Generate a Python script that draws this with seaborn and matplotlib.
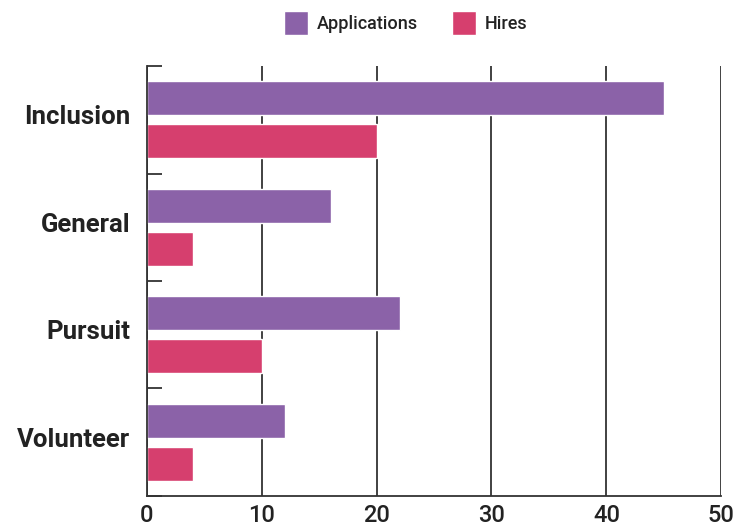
import matplotlib
matplotlib.use("Agg")
import matplotlib.pyplot as plt
import matplotlib.transforms as mtransforms
import seaborn as sns
import pandas as pd
from matplotlib.ticker import FixedLocator

# data
categories = ["Inclusion", "General", "Pursuit", "Volunteer"]
applications = [45, 16, 22, 12]
hires = [20, 4, 10, 4]
series_names = ["Applications", "Hires"]
x_ticks = [0, 10, 20, 30, 40, 50]

sns.set_theme(style="white")
plt.rcParams["font.family"] = ["Roboto", "DejaVu Sans"]

df = pd.DataFrame({
    "Program": categories * 2,
    "Count": applications + hires,
    "Series": [series_names[0]] * len(categories) + [series_names[1]] * len(categories),
})

fig = plt.figure(figsize=(7.49, 5.29), dpi=100)
ax = fig.add_axes([0.196, 0.0624, 0.767, 0.8128])

sns.barplot(data=df, y="Program", x="Count", hue="Series", orient="h",
            palette=["#8B62A8", "#D63F6E"], width=0.8, gap=0.2,
            saturation=1, ax=ax, legend=True)

ax.set_xlim(0, 50)
ax.set_ylim(len(categories) - 0.5, -0.5)
ax.set_xticks(x_ticks)
ax.set_xticklabels([str(t) for t in x_ticks], fontsize=17, fontweight="medium", color="#222222")
ax.tick_params(axis="x", length=0, pad=6)
ax.tick_params(axis="y", which="major", left=False, length=0, pad=12)
shift = mtransforms.ScaledTranslation(0, 5 / 100, fig.dpi_scale_trans)
for lab in ax.get_yticklabels():
    lab.set_fontsize(18.5)
    lab.set_fontweight("bold")
    lab.set_color("#222222")
    lab.set_transform(lab.get_transform() + shift)
ax.yaxis.set_minor_locator(FixedLocator([i - 0.5 for i in range(len(categories) + 1)]))
ax.tick_params(axis="y", which="minor", left=True, direction="in", length=11,
               width=1.3, color="#333333")

ax.set_xlabel("")
ax.set_ylabel("")
ax.grid(axis="x", color="#333333", linewidth=1.3)
ax.set_axisbelow(True)
for s in ["top", "right"]:
    ax.spines[s].set_visible(False)
for s in ["left", "bottom"]:
    ax.spines[s].set_color("#333333")
    ax.spines[s].set_linewidth(1.3)

handles, labels = ax.get_legend_handles_labels()
leg = ax.legend(handles, labels, loc="upper center", bbox_to_anchor=(0.542, 1.01),
                bbox_transform=fig.transFigure, ncol=2, frameon=False, fontsize=13,
                handlelength=1.3, handleheight=1.7, columnspacing=1.9, handletextpad=0.5)
for t in leg.get_texts():
    t.set_fontweight("medium")
    t.set_color("#222222")

fig.savefig("out.png", dpi=100)
